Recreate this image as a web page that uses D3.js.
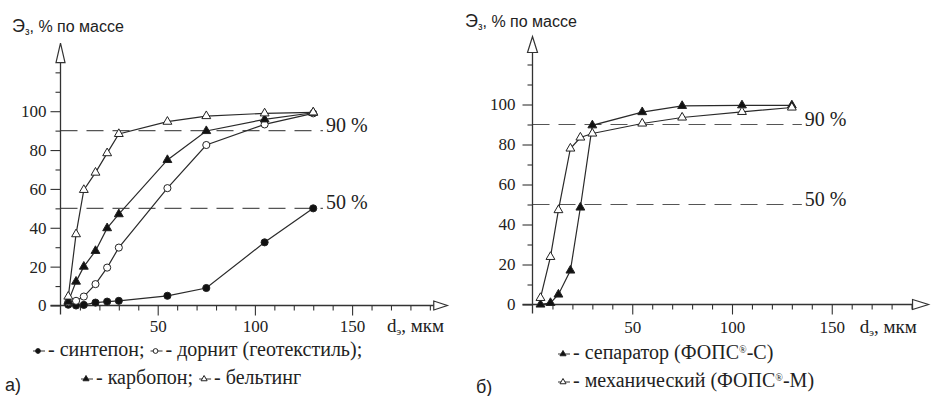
<!DOCTYPE html>
<html>
<head>
<meta charset="utf-8">
<script src="https://cdn.jsdelivr.net/npm/d3@7"></script>
<style>
body { margin: 0; background: #fff; }
text { fill: #222; }
.sf { font-family: "Liberation Serif", "DejaVu Serif", "Noto Serif", serif; }
.ss { font-family: "Liberation Sans", Arial, sans-serif; }
</style>
</head>
<body>
<svg id="chart" width="931" height="396"></svg>
<script>
// --- data ---
var dLeft = [4, 8, 12, 18, 24, 30, 55, 75, 105, 130];
var sintepon = [0.4, 0, 0.3, 1.5, 2, 2.4, 5, 9, 32.5, 50];
var dornit = [1.7, 2.4, 4.6, 11, 19.5, 29.8, 60.4, 82.6, 93.2, 98.9];
var karbopon = [2, 12.3, 20, 28.1, 39.8, 47, 74.9, 89.8, 95.8, 99.2];
var belting = [4.6, 36.7, 59.5, 68.4, 78.4, 88.3, 94.6, 97.5, 98.9, 99.4];

var dRight = [4, 9, 13, 19, 24, 30, 55, 75, 105, 130];
var separator = [0, 0.8, 5, 17, 48.5, 89.6, 96.2, 99.3, 99.6, 99.6];
var mechanical = [3.3, 23.8, 47.2, 78, 83.5, 85.5, 90.5, 93.5, 96.3, 98.5];

var xTicks = [50, 100, 150];
var yTicks = [0, 20, 40, 60, 80, 100];
var levels = [90, 50];

var svg = d3.select("#chart");

function marker(sel, type, size) {
	var t = (type == "circleF" || type == "circleO") ? d3.symbolCircle : d3.symbolTriangle;
	var filled = (type == "circleF" || type == "triF");
	sel.append("path")
		.attr("d", d3.symbol().type(t).size(size))
		.attr("fill", filled ? "#111" : "#fff")
		.attr("stroke", "#222")
		.attr("stroke-width", 1);
}

function drawPanel(p) {
	var g = svg.append("g");
	var x = d3.scaleLinear().domain([0, 100]).range(p.xr);
	var y = d3.scaleLinear().domain([0, 100]).range(p.yr);

	// dashed 90 % / 50 % levels
	levels.forEach(function(lv){
		g.append("line")
			.attr("x1", x(0)).attr("x2", x(135))
			.attr("y1", y(lv)).attr("y2", y(lv))
			.attr("stroke", "#555")
			.attr("stroke-width", 1.2)
			.attr("stroke-dasharray", "17,9");
		g.append("text")
			.attr("class", "sf")
			.attr("x", x(135) + 3)
			.attr("y", y(lv) + 1)
			.style("font-size", "20px")
			.text(lv + " %");
	});

	// axes
	var ax = g.append("g").attr("transform", "translate(0," + y(0) + ")");
	ax.call(d3.axisBottom(x)
		.tickValues(d3.range(10, 200, 10).filter(function(v){ return v % 50 != 0; }))
		.tickSize(5).tickFormat(""));
	var axM = g.append("g").attr("transform", "translate(0," + y(0) + ")");
	axM.call(d3.axisBottom(x).tickValues(xTicks).tickSize(10).tickPadding(p.xPad));

	var ay = g.append("g").attr("transform", "translate(" + x(0) + ",0)");
	ay.call(d3.axisLeft(y).tickValues([10, 30, 50, 70, 90, 110, 120]).tickSize(5).tickFormat(""));
	var ayM = g.append("g").attr("transform", "translate(" + x(0) + ",0)");
	ayM.call(d3.axisLeft(y).tickValues(yTicks).tickSize(10).tickPadding(p.yPad));

	g.selectAll(".domain").remove();
	g.selectAll(".tick line").attr("stroke", "#333").attr("stroke-width", 1.1);
	g.selectAll(".tick text")
		.attr("class", "sf")
		.style("font-size", "17px")
		.attr("fill", "#222");
	[ax, axM, ay, ayM].forEach(function(a){ a.attr("font-family", null); });

	// axis lines with open arrows
	g.append("line")
		.attr("x1", x(0)).attr("x2", x(0))
		.attr("y1", y(0) + 9).attr("y2", y(p.yArrow[0]))
		.attr("stroke", "#333").attr("stroke-width", 1.3);
	g.append("path")
		.attr("d", "M" + (x(0) - p.aw) + "," + y(p.yArrow[0]) + "L" + x(0) + "," + y(p.yArrow[1]) + "L" + (x(0) + p.aw) + "," + y(p.yArrow[0]) + "Z")
		.attr("fill", "#fff").attr("stroke", "#333").attr("stroke-width", 1.2);
	g.append("line")
		.attr("x1", x(0) - 10).attr("x2", x(p.xArrow[0]))
		.attr("y1", y(0)).attr("y2", y(0))
		.attr("stroke", "#333").attr("stroke-width", 1.3);
	g.append("path")
		.attr("d", "M" + x(p.xArrow[0]) + "," + (y(0) - p.aw) + "L" + x(p.xArrow[1]) + "," + y(0) + "L" + x(p.xArrow[0]) + "," + (y(0) + p.aw) + "Z")
		.attr("fill", "#fff").attr("stroke", "#333").attr("stroke-width", 1.2);

	// axis titles
	var ty = g.append("text")
		.attr("class", "ss")
		.attr("x", p.title[0]).attr("y", p.title[1])
		.style("font-size", "16px");
	ty.append("tspan").style("font-size", "18px").text("Э");
	ty.append("tspan").attr("dy", 3).style("font-size", "10px").text("з");
	ty.append("tspan").attr("dy", -3).text(", % по массе");

	var tx = g.append("text")
		.attr("class", "sf")
		.attr("x", x(p.xLabel)).attr("y", y(0) + p.xPad + 22)
		.style("font-size", "19px");
	tx.append("tspan").text("d");
	tx.append("tspan").attr("dy", 3).style("font-size", "11px").text("э");
	tx.append("tspan").attr("dy", -3).text(", мкм");

	// series
	var line = d3.line()
		.x(function(d){ return x(d[0]); })
		.y(function(d){ return y(d[1]); });

	p.series.forEach(function(s){
		var pts = d3.zip(p.d, s.values);
		g.append("path")
			.datum(pts)
			.attr("d", line)
			.attr("fill", "none")
			.attr("stroke", "#2a2a2a")
			.attr("stroke-width", 1.2);
	});
	p.series.forEach(function(s){
		var pts = d3.zip(p.d, s.values);
		g.selectAll(null)
			.data(pts)
			.enter()
			.append("g")
			.attr("transform", function(d){ return "translate(" + x(d[0]) + "," + y(d[1]) + ")"; })
			.each(function(){ marker(d3.select(this), s.sym, s.sym.indexOf("tri") == 0 ? 34 : 40); });
	});

	// legend
	p.legend.forEach(function(row){
		var cx = row.x;
		row.items.forEach(function(it){
			var lg = g.append("g").attr("transform", "translate(" + cx + "," + (row.y - 5) + ")");
			lg.append("line").attr("x1", 0).attr("x2", 12).attr("y1", 0).attr("y2", 0)
				.attr("stroke", "#333").attr("stroke-width", 1);
			var mk = lg.append("g").attr("transform", "translate(5,0)");
			marker(mk, it.sym, it.sym.indexOf("tri") == 0 ? 16 : 18);
			var t = g.append("text")
				.attr("class", "sf")
				.attr("x", cx + 15).attr("y", row.y)
				.style("font-size", "20px");
			it.label.forEach(function(part, i){
				var ts = t.append("tspan").text(part);
				if (i % 2 == 1) ts.attr("dy", -6).style("font-size", "10px");
				else if (i > 0) ts.attr("dy", 6);
			});
			cx += 15 + t.node().getComputedTextLength() + 6;
		});
	});

	g.append("text")
		.attr("class", "ss")
		.attr("x", p.tag[0]).attr("y", p.tag[1])
		.style("font-size", "18px")
		.text(p.tag[2]);
}

drawPanel({
	xr: [60.5, 254.9], yr: [305.5, 111.2],
	d: dLeft,
	series: [
		{ values: sintepon, sym: "circleF" },
		{ values: dornit, sym: "circleO" },
		{ values: karbopon, sym: "triF" },
		{ values: belting, sym: "triO" }
	],
	xPad: 4, yPad: 4,
	xArrow: [192, 199], yArrow: [125, 135], aw: 4.5,
	title: [12, 32], xLabel: 168, tag: [5, 391, "а)"],
	legend: [
		{ x: 33, y: 356, items: [
			{ sym: "circleF", label: ["- синтепон;"] },
			{ sym: "circleO", label: ["- дорнит (геотекстиль);"] }
		]},
		{ x: 81, y: 384, items: [
			{ sym: "triF", label: ["- карбопон;"] },
			{ sym: "triO", label: ["- бельтинг"] }
		]}
	]
});

drawPanel({
	xr: [532.5, 732], yr: [304.5, 104.5],
	d: dRight,
	series: [
		{ values: separator, sym: "triF" },
		{ values: mechanical, sym: "triO" }
	],
	xPad: 6, yPad: 7,
	xArrow: [190.5, 198.5], yArrow: [126, 134], aw: 5,
	title: [465, 27], xLabel: 164, tag: [476, 393, "б)"],
	legend: [
		{ x: 558, y: 359, items: [
			{ sym: "triF", label: ["- сепаратор (ФОПС", "®", "-С)"] }
		]},
		{ x: 558, y: 387, items: [
			{ sym: "triO", label: ["- механический (ФОПС", "®", "-М)"] }
		]}
	]
});
</script>
</body>
</html>
